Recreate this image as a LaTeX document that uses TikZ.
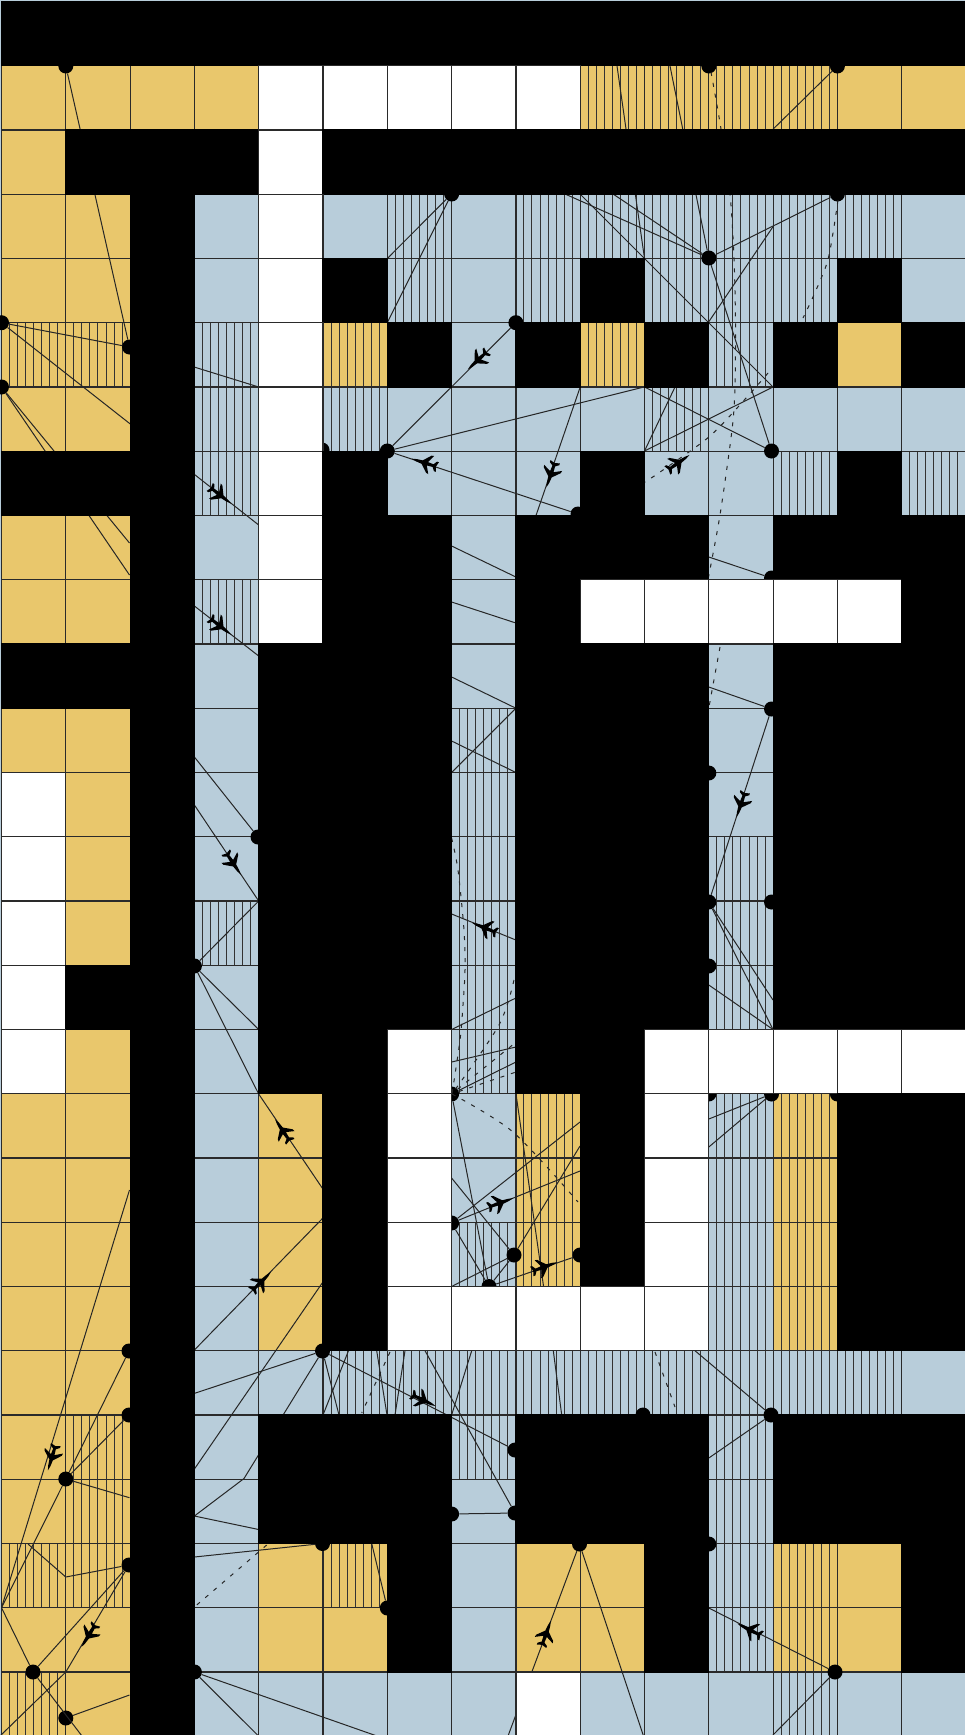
\documentclass[tikz,border=0pt]{standalone}
\usepackage{xcolor}
\usetikzlibrary{arrows.meta,calc}
\definecolor{MapYellow}{HTML}{E9C76C}
\definecolor{MapBlue}{HTML}{B8CDDA}
\definecolor{MapGrid}{HTML}{2A2A2A}
\tikzset{
  hatched/.style={
    path picture={
      \foreach \i in {1,...,7}
        \draw[hatch line] ([xshift=\i*8.04pt]path picture bounding box.south west) -- ([xshift=\i*8.04pt]path picture bounding box.north west);
    }
  },
  hatch line/.style={draw=black!80,line width=1pt},
  base Y/.style={fill=MapYellow,draw=MapGrid,line width=1.2pt},
  base L/.style={fill=MapBlue,draw=MapGrid,line width=1.2pt},
  base H/.style={base Y,hatched},
  base h/.style={base L,hatched},
  base B/.style={},
  base W/.style={},
  top Y/.style={},
  top L/.style={},
  top H/.style={},
  top h/.style={},
  top B/.style={fill=black,draw=black,line width=1.2pt},
  top W/.style={fill=white,draw=MapGrid,line width=1.2pt},
  hub/.style={circle,fill=black,inner sep=0pt,minimum size=15pt},
  route/.style={draw=black!85,line width=1pt},
  route dashed/.style={draw=black!85,line width=1pt,dash pattern=on 4pt off 7pt},
  jet/.pic={
    \fill[black] (14,0) -- (9,1.2) -- (3,1.8) -- (-4,9) -- (-6.5,9.5) -- (-2.5,1.8) -- (-8.5,1.4) -- (-11,5) -- (-13,5) -- (-11.5,0)
      -- (-13,-5) -- (-11,-5) -- (-8.5,-1.4) -- (-2.5,-1.8) -- (-6.5,-9.5) -- (-4,-9) -- (3,-1.8) -- (9,-1.2) -- cycle;
  }
}
\newcommand{\maprows}{%
  {B,B,B,B,B,B,B,B,B,B,B,B,B,B,B},
  {Y,Y,Y,Y,W,W,W,W,W,H,H,H,H,Y,Y},
  {Y,B,B,B,W,B,B,B,B,B,B,B,B,B,B},
  {Y,Y,B,L,W,L,h,L,h,h,h,h,h,h,L},
  {Y,Y,B,L,W,B,h,L,h,B,h,h,h,B,L},
  {H,H,B,h,W,H,B,L,B,H,B,h,B,Y,B},
  {Y,Y,B,h,W,h,L,L,L,L,h,L,L,L,L},
  {B,B,B,h,W,B,L,L,L,B,L,L,h,B,h},
  {Y,Y,B,L,W,B,B,L,B,B,B,L,B,B,B},
  {Y,Y,B,h,W,B,B,L,B,W,W,W,W,W,B},
  {B,B,B,L,B,B,B,L,B,B,B,L,B,B,B},
  {Y,Y,B,L,B,B,B,h,B,B,B,L,B,B,B},
  {W,Y,B,L,B,B,B,h,B,B,B,L,B,B,B},
  {W,Y,B,L,B,B,B,h,B,B,B,h,B,B,B},
  {W,Y,B,h,B,B,B,h,B,B,B,h,B,B,B},
  {W,B,B,L,B,B,B,h,B,B,B,h,B,B,B},
  {W,Y,B,L,B,B,W,h,B,B,W,W,W,W,W},
  {Y,Y,B,L,Y,B,W,L,H,B,W,h,H,B,B},
  {Y,Y,B,L,Y,B,W,L,H,B,W,h,H,B,B},
  {Y,Y,B,L,Y,B,W,h,H,B,W,h,H,B,B},
  {Y,Y,B,L,Y,B,W,W,W,W,W,h,H,B,B},
  {Y,Y,B,L,L,h,h,h,h,h,h,h,h,h,L},
  {Y,H,B,L,B,B,B,h,B,B,B,h,B,B,B},
  {Y,H,B,L,B,B,B,L,B,B,B,h,B,B,B},
  {H,H,B,L,Y,H,B,L,Y,Y,B,h,H,Y,B},
  {Y,Y,B,L,Y,Y,B,L,Y,Y,B,h,H,Y,B},
  {H,Y,B,L,L,L,L,L,W,L,L,L,h,L,L}%
}

\begin{document}
\begin{tikzpicture}[x=1pt,y=-1pt]
  \useasboundingbox (0,0) rectangle (965,1735);
  \fill[MapBlue] (0,0) rectangle (965,1735);

  % ground cells
  \foreach \cells [count=\ry from 0] in \maprows
    \foreach \kind [count=\cx from 0] in \cells
      \path[style/.expanded={base \kind}] ({1.5+64.3*\cx},{1.5+64.25*\ry}) rectangle ++(64.3,64.25);

  % hubs
  \node[hub] (h1) at (65.8,66) {};
  \node[hub] (h2) at (708.8,66) {};
  \node[hub] (h3) at (837.4,66) {};
  \node[hub] (h4) at (451.6,194) {};
  \node[hub] (h5) at (837.4,194) {};
  \node[hub] (h6) at (708.8,258) {};
  \node[hub] (h7) at (129.5,347) {};
  \node[hub] (h8) at (1.5,322.7) {};
  \node[hub] (h9) at (1.5,387) {};
  \node[hub] (h10) at (515.9,322.7) {};
  \node[hub] (h11) at (387.3,451) {};
  \node[hub] (h12) at (322,450) {};
  \node[hub] (h13) at (771.5,451) {};
  \node[hub] (h14) at (578,514) {};
  \node[hub] (h15) at (771.5,578) {};
  \node[hub] (h16) at (771.5,709) {};
  \node[hub] (h17) at (708.8,773) {};
  \node[hub] (h18) at (258,837) {};
  \node[hub] (h19) at (708.8,902) {};
  \node[hub] (h20) at (771.5,902) {};
  \node[hub] (h21) at (708.8,966) {};
  \node[hub] (h22) at (194.4,966) {};
  \node[hub] (h23) at (451.6,1094) {};
  \node[hub] (h24) at (708.8,1094) {};
  \node[hub] (h25) at (771.5,1094) {};
  \node[hub] (h26) at (837.4,1094) {};
  \node[hub] (h27) at (451.6,1223) {};
  \node[hub] (h28) at (514,1255) {};
  \node[hub] (h29) at (580,1255) {};
  \node[hub] (h30) at (489,1286.5) {};
  \node[hub] (h31) at (129,1351) {};
  \node[hub] (h32) at (322.5,1351) {};
  \node[hub] (h33) at (129,1415) {};
  \node[hub] (h34) at (65.8,1479) {};
  \node[hub] (h35) at (129,1565) {};
  \node[hub] (h36) at (33,1672) {};
  \node[hub] (h37) at (65.8,1718) {};
  \node[hub] (h38) at (194.4,1672) {};
  \node[hub] (h39) at (322.5,1543.5) {};
  \node[hub] (h40) at (387.3,1608) {};
  \node[hub] (h41) at (451.6,1514) {};
  \node[hub] (h42) at (515,1513) {};
  \node[hub] (h43) at (515,1450) {};
  \node[hub] (h44) at (643,1415) {};
  \node[hub] (h45) at (771,1415) {};
  \node[hub] (h46) at (708.8,1544) {};
  \node[hub] (h47) at (579.5,1544) {};
  \node[hub] (h48) at (835,1672) {};

  % free ends
  \foreach \n/\x/\y in {
    e1/258.7/525, e2/129.5/575, e3/129.5/543, e4/194.4/606, e5/258.7/656, e6/258.7/387,
    e7/387.3/258.5, e8/387.3/322.7, e9/644/387, e10/580.2/387, e11/536/515.5, e12/617/66,
    e13/644.5/258.5, e14/670/66, e15/772.7/129.5, e16/565/194, e17/613/194, e18/580.2/194.2,
    e19/773/387, e20/773/226.7, e21/708.6/322, e22/675/387, e23/644.5/451, e24/644.5/387,
    e25/451.6/546, e26/515.9/577, e27/451.6/602, e28/515.9/623, e29/451.6/677, e30/515.9/708.2,
    e31/451.6/772.5, e32/451.6/741, e33/515.9/772.5, e34/708.8/557, e35/708.8/687, e36/773/1000,
    e37/773/1029.5, e38/708.8/985, e39/451.6/914, e40/515.9/940, e41/451.6/1029.5, e42/515.9/998,
    e43/451.6/1062, e44/515.9/1047, e45/515.9/1062, e46/516/1094, e47/543.5/1286, e48/451.6/1178,
    e49/580/1122, e50/580/1171, e51/580/1146, e52/451.6/1286.5, e53/708.8/1119, e54/708.8/1147,
    e55/258.7/901, e56/258.7/1029.5, e57/258.7/1094, e58/322.9/1189, e59/194.4/757, e60/194.4/805,
    e61/322.9/1218, e62/194.4/1350, e63/322.9/1282, e64/194.4/1469, e65/129.5/1190, e66/1.5/1607.7,
    e67/244/1478.5, e68/194.4/1516, e69/258.7/1529.5, e70/129.5/1497.7, e71/28/1544, e72/65.8/1577,
    e73/65.8/1672, e74/0/1736, e75/82/1736, e76/129.5/1695, e77/339/1415, e78/348.5/1350.7,
    e79/323/1415, e80/376.7/1350.7, e81/387/1415, e82/405/1350.7, e83/395/1415, e84/425/1350.7,
    e85/471.7/1350.7, e86/451.6/1415, e87/194.4/1557, e88/371.7/1543.5, e89/377/1736, e90/258.5/1736,
    e91/553.3/1350.7, e92/561.7/1415, e93/695/1350.7, e94/708.8/1458, e95/508/1736, e96/643.5/1736,
    e97/708.8/1608, e98/772/1736, e99/720/647, e100/708.8/708, e101/515/1043, e102/516/1072,
    e103/390/1352, e104/361.7/1413, e105/266.7/1545, e106/196.7/1605, e107/655/1352, e108/675/1407}
    \coordinate (\n) at (\x,\y);

  % routes
  \draw[route] (h1) -- (h7);
  \draw[route] (h8) -- (h7);
  \draw[route] (h8) -- (e1);
  \draw[route] (h9) -- (e2);
  \draw[route] (h9) -- (e3);
  \draw[route] (e4) -- (e5);
  \draw[route] (h7) -- (e6);
  \draw[route] (h4) -- (e7);
  \draw[route] (h4) -- (e8);
  \draw[route] (h10) -- (h11);
  \draw[route] (h11) -- (e9);
  \draw[route] (h11) -- (h14);
  \draw[route] (e10) -- (e11);
  \draw[route] (e12) -- (e13);
  \draw[route] (e14) -- (h6);
  \draw[route] (e15) -- (h3);
  \draw[route] (h6) -- (e16);
  \draw[route] (h6) -- (e17);
  \draw[route] (h6) -- (h5);
  \draw[route] (e18) -- (e19);
  \draw[route] (h6) -- (h13);
  \draw[route] (e20) -- (e21);
  \draw[route] (e22) -- (e23);
  \draw[route] (e24) -- (h13);
  \draw[route] (e19) -- (e23);
  \draw[route] (e25) -- (e26);
  \draw[route] (e27) -- (e28);
  \draw[route] (e29) -- (e30) -- (e31);
  \draw[route] (e32) -- (e33);
  \draw[route] (e34) -- (h15);
  \draw[route] (e35) -- (h16);
  \draw[route] (h16) -- (h19);
  \draw[route] (h19) -- (e36);
  \draw[route] (h19) -- (e37);
  \draw[route] (e38) -- (e37);
  \draw[route] (e39) -- (e40);
  \draw[route] (e41) -- (e42);
  \draw[route] (e43) -- (e44);
  \draw[route] (h23) -- (e45);
  \draw[route] (h23) -- (h30);
  \draw[route] (e46) -- (e47);
  \draw[route] (e48) -- (h28);
  \draw[route] (h27) -- (e49);
  \draw[route] (h27) -- (e50);
  \draw[route] (h27) -- (h30);
  \draw[route] (h28) -- (e51);
  \draw[route] (h28) -- (h30);
  \draw[route] (h28) -- (e52);
  \draw[route] (h30) -- (h29);
  \draw[route] (h25) -- (e53);
  \draw[route] (h25) -- (e54);
  \draw[route] (h22) -- (e55);
  \draw[route] (h22) -- (e56);
  \draw[route] (h22) -- (e57) -- (e58);
  \draw[route] (e59) -- (h18);
  \draw[route] (e60) -- (e55);
  \draw[route] (e61) -- (e62);
  \draw[route] (e63) -- (e64);
  \draw[route] (e65) -- (e66);
  \draw[route] (h33) -- (h32);
  \draw[route] (h32) -- (e67) -- (e68) -- (e69);
  \draw[route] (h31) -- (h34);
  \draw[route] (h34) -- (e66);
  \draw[route] (h33) -- (h34);
  \draw[route] (h34) -- (e70);
  \draw[route] (e71) -- (e72) -- (h35);
  \draw[route] (e66) -- (h36);
  \draw[route] (h35) -- (h36);
  \draw[route] (h35) -- (e73) -- (e74);
  \draw[route] (h36) -- (e75);
  \draw[route] (h37) -- (e76);
  \draw[route] (h32) -- (e77);
  \draw[route] (e78) -- (e79);
  \draw[route] (e80) -- (e81);
  \draw[route] (e82) -- (e83);
  \draw[route] (h32) -- (h43);
  \draw[route] (e84) -- (h42);
  \draw[route] (e85) -- (e86);
  \draw[route] (h41) -- (h42);
  \draw[route] (h39) -- (e87);
  \draw[route] (h40) -- (e88);
  \draw[route] (h38) -- (e89);
  \draw[route] (h38) -- (e90);
  \draw[route] (e91) -- (e92);
  \draw[route] (e93) -- (h45);
  \draw[route] (h45) -- (e94);
  \draw[route] (h47) -- (e95);
  \draw[route] (h47) -- (e96);
  \draw[route] (e97) -- (h48);
  \draw[route] (h48) -- (e98);

  % dashed routes
  \draw[route dashed] plot[smooth] coordinates {(711,72) (721,129) (730,194) (734,258) (735.5,323) (735,387) (732,430) (720,515) (708.5,577)};
  \draw[route dashed] (e99) -- (e100);
  \draw[route dashed] plot[smooth] coordinates {(838,200) (833,233) (827,263) (813,297) (803,318)};
  \draw[route dashed] plot[smooth] coordinates {(768,373) (747,397) (710,436) (663,470) (645,482)};
  \draw[route dashed] plot[smooth] coordinates {(451.6,838) (458,870) (464,930) (465,970) (463,1005) (460,1040) (452,1094)};
  \draw[route dashed] plot[smooth] coordinates {(514,980) (499,1025) (452,1094)};
  \draw[route dashed] (h23) -- (e101);
  \draw[route dashed] (h23) -- (e102);
  \draw[route dashed] plot[smooth] coordinates {(452,1094) (513,1132) (578,1202)};
  \draw[route dashed] (e103) -- (e104);
  \draw[route dashed] (e105) -- (e106);
  \draw[route dashed] (e107) -- (e108);

  % aircraft
  \pic[rotate=-38] at (220,495) {jet};
  \pic[rotate=-38] at (220,626) {jet};
  \pic[rotate=162] at (425,463) {jet};
  \pic[rotate=-137] at (478,360) {jet};
  \pic[rotate=-109] at (551,474) {jet};
  \pic[rotate=35] at (678,463) {jet};
  \pic[rotate=-109] at (741,804) {jet};
  \pic[rotate=-56] at (233,863) {jet};
  \pic[rotate=158] at (485,928) {jet};
  \pic[rotate=124] at (283,1131) {jet};
  \pic[rotate=45] at (261,1282) {jet};
  \pic[rotate=20] at (500,1203) {jet};
  \pic[rotate=20] at (544,1267) {jet};
  \pic[rotate=-26] at (423,1400) {jet};
  \pic[rotate=-107] at (52,1457) {jet};
  \pic[rotate=-122] at (89,1635) {jet};
  \pic[rotate=70] at (546,1634) {jet};
  \pic[rotate=153] at (750,1630) {jet};

  % blocked and open cells
  \foreach \cells [count=\ry from 0] in \maprows
    \foreach \kind [count=\cx from 0] in \cells
      \path[style/.expanded={top \kind}] ({1.5+64.3*\cx},{1.5+64.25*\ry}) rectangle ++(64.3,64.25);
\end{tikzpicture}
\end{document}
